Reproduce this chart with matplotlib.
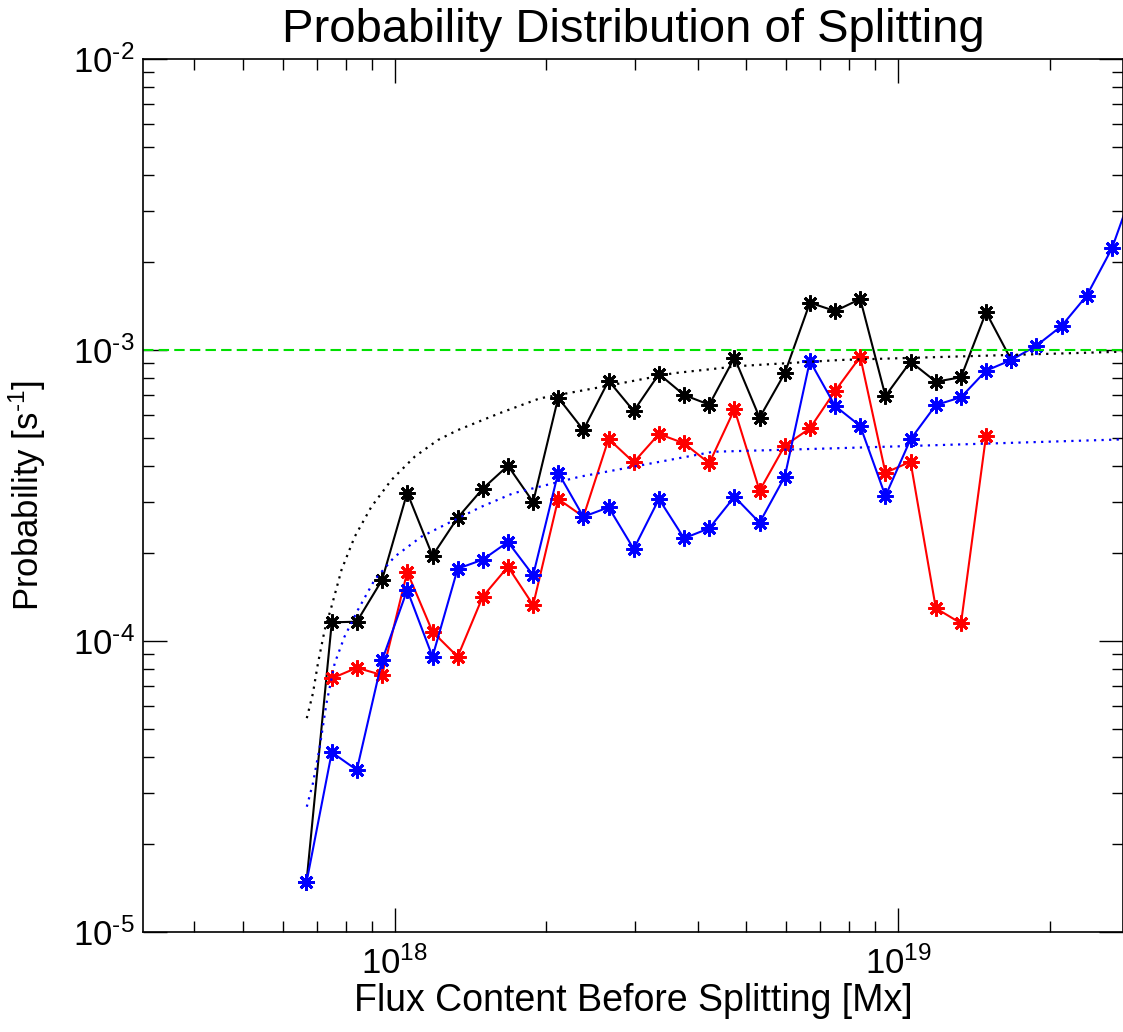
import matplotlib
matplotlib.use('Agg')
import matplotlib.pyplot as plt
import numpy as np
from matplotlib.ticker import LogLocator, NullFormatter, FuncFormatter

plt.rcParams['font.family'] = ['Liberation Sans', 'DejaVu Sans']
plt.rcParams['mathtext.fontset'] = 'custom'
plt.rcParams['mathtext.rm'] = 'Liberation Sans'
plt.rcParams['mathtext.it'] = 'Liberation Sans'
plt.rcParams['mathtext.default'] = 'regular'
plt.rcParams['axes.unicode_minus'] = False

# flux bins [Mx]
flux = [6.68e17, 7.50e17, 8.41e17, 9.44e17, 1.059e18, 1.189e18, 1.334e18, 1.496e18,
        1.679e18, 1.884e18, 2.113e18, 2.371e18, 2.661e18, 2.985e18, 3.350e18, 3.758e18,
        4.217e18, 4.732e18, 5.309e18, 5.957e18, 6.683e18, 7.499e18, 8.414e18, 9.441e18,
        1.059e19, 1.189e19, 1.334e19, 1.496e19, 1.679e19, 1.884e19, 2.113e19, 2.371e19,
        2.661e19, 2.985e19]

# total (black), first 29 bins
p_all = [1.48e-5, 1.159e-4, 1.165e-4, 1.621e-4, 3.233e-4, 1.964e-4, 2.652e-4, 3.337e-4,
         4.003e-4, 3.003e-4, 6.856e-4, 5.311e-4, 7.841e-4, 6.17e-4, 8.27e-4, 7.005e-4,
         6.486e-4, 9.41e-4, 5.854e-4, 8.32e-4, 1.454e-3, 1.361e-3, 1.497e-3, 6.95e-4,
         9.12e-4, 7.78e-4, 8.06e-4, 1.348e-3, 9.24e-4]

# red, bins 1..27
p_red = [7.44e-5, 8.09e-5, 7.64e-5, 1.727e-4, 1.076e-4, 8.83e-5, 1.42e-4, 1.80e-4,
         1.329e-4, 3.076e-4, 2.673e-4, 4.945e-4, 4.113e-4, 5.145e-4, 4.779e-4, 4.081e-4,
         6.254e-4, 3.285e-4, 4.689e-4, 5.38e-4, 7.23e-4, 9.48e-4, 3.788e-4, 4.13e-4,
         1.296e-4, 1.15e-4, 5.077e-4]

# blue, all bins
p_blue = [1.48e-5, 4.145e-5, 3.603e-5, 8.58e-5, 1.497e-4, 8.83e-5, 1.772e-4, 1.903e-4,
          2.189e-4, 1.682e-4, 3.788e-4, 2.673e-4, 2.88e-4, 2.071e-4, 3.076e-4, 2.254e-4,
          2.44e-4, 3.132e-4, 2.55e-4, 3.669e-4, 9.17e-4, 6.42e-4, 5.48e-4, 3.149e-4,
          4.932e-4, 6.47e-4, 6.88e-4, 8.49e-4, 9.24e-4, 1.035e-3, 1.209e-3, 1.537e-3,
          2.236e-3, 3.9e-3]

# dotted curves
fit_all_x = [6.69e17, 6.88e17, 7.04e17, 7.26e17, 7.49e17, 7.84e17, 8.33e17, 8.99e17,
             9.85e17, 1.096e18, 1.219e18, 1.336e18, 1.618e18, 1.942e18, 2.636e18,
             3.576e18, 4.852e18, 7.67e18, 1.212e19, 2.80e19]
fit_all_y = [5.43e-5, 6.61e-5, 8.38e-5, 1.091e-4, 1.312e-4, 1.754e-4, 2.283e-4, 2.893e-4,
             3.575e-4, 4.30e-4, 4.906e-4, 5.31e-4, 6.07e-4, 6.82e-4, 7.52e-4,
             8.32e-4, 8.81e-4, 9.24e-4, 9.46e-4, 9.87e-4]

fit_blue_x = [6.69e17, 6.88e17, 7.10e17, 7.32e17, 7.60e17, 7.95e17, 8.45e17, 9.12e17,
              1.0e18, 1.130e18, 1.276e18, 1.487e18, 1.719e18, 2.333e18, 2.977e18,
              4.295e18, 7.67e18, 2.80e19]
fit_blue_y = [2.695e-5, 3.243e-5, 4.334e-5, 6.11e-5, 8.38e-5, 1.035e-4, 1.278e-4, 1.621e-4,
              1.949e-4, 2.283e-4, 2.538e-4, 2.893e-4, 3.218e-4, 3.67e-4, 3.97e-4,
              4.47e-4, 4.60e-4, 4.93e-4]

level = 1e-3


def pow10(v, pos):
    e = int(round(np.log10(v)))
    s = str(e).replace('-', '\u2010')
    return '$10^{' + s + '}$'


fig = plt.figure(figsize=(11.23, 10.32), dpi=100)
ax = fig.add_axes([143/1123, 1 - 932/1032, 980/1123, (932 - 59)/1032])

mk = dict(marker=(8, 2, 0), markersize=11.5, markeredgewidth=2, linewidth=1.5)
ax.plot(flux[:len(p_all)], p_all, color='black', **mk)
ax.plot(flux[1:1 + len(p_red)], p_red, color='red', **mk)
ax.plot(flux[:len(p_blue)], p_blue, color='blue', **mk)
ax.plot(fit_all_x, fit_all_y, color='black', linewidth=1.6, linestyle=(0, (1, 2.4)))
ax.plot(fit_blue_x, fit_blue_y, color='blue', linewidth=1.6, linestyle=(0, (1, 2.4)))
ax.axhline(level, color='#00e000', linewidth=1.5, linestyle=(0, (5, 2.5)))

ax.set_xscale('log')
ax.set_yscale('log')
ax.set_xlim(10**17.5, 10**19.447)
ax.set_ylim(1e-5, 1e-2)

ax.xaxis.set_major_locator(LogLocator(base=10, numticks=10))
ax.yaxis.set_major_locator(LogLocator(base=10, numticks=10))
ax.xaxis.set_major_formatter(FuncFormatter(pow10))
ax.yaxis.set_major_formatter(FuncFormatter(pow10))
ax.xaxis.set_minor_formatter(NullFormatter())
ax.yaxis.set_minor_formatter(NullFormatter())
ax.tick_params(which='both', direction='in', top=True, right=True, labelsize=25, colors='black')
ax.tick_params(which='major', length=17, width=1)
ax.tick_params(axis='y', which='major', pad=6)
ax.tick_params(axis='x', which='major', pad=10)
ax.tick_params(which='minor', length=8, width=1)
for s in ax.spines.values():
    s.set_linewidth(1.2)

ax.set_title('Probability Distribution of Splitting', fontsize=34, pad=12)
ax.set_xlabel('Flux Content Before Splitting [Mx]', fontsize=27, labelpad=2)
ax.set_ylabel('Probability [s$^{\u20101}$]', fontsize=25, labelpad=18)

plt.savefig('out.png', dpi=100)
